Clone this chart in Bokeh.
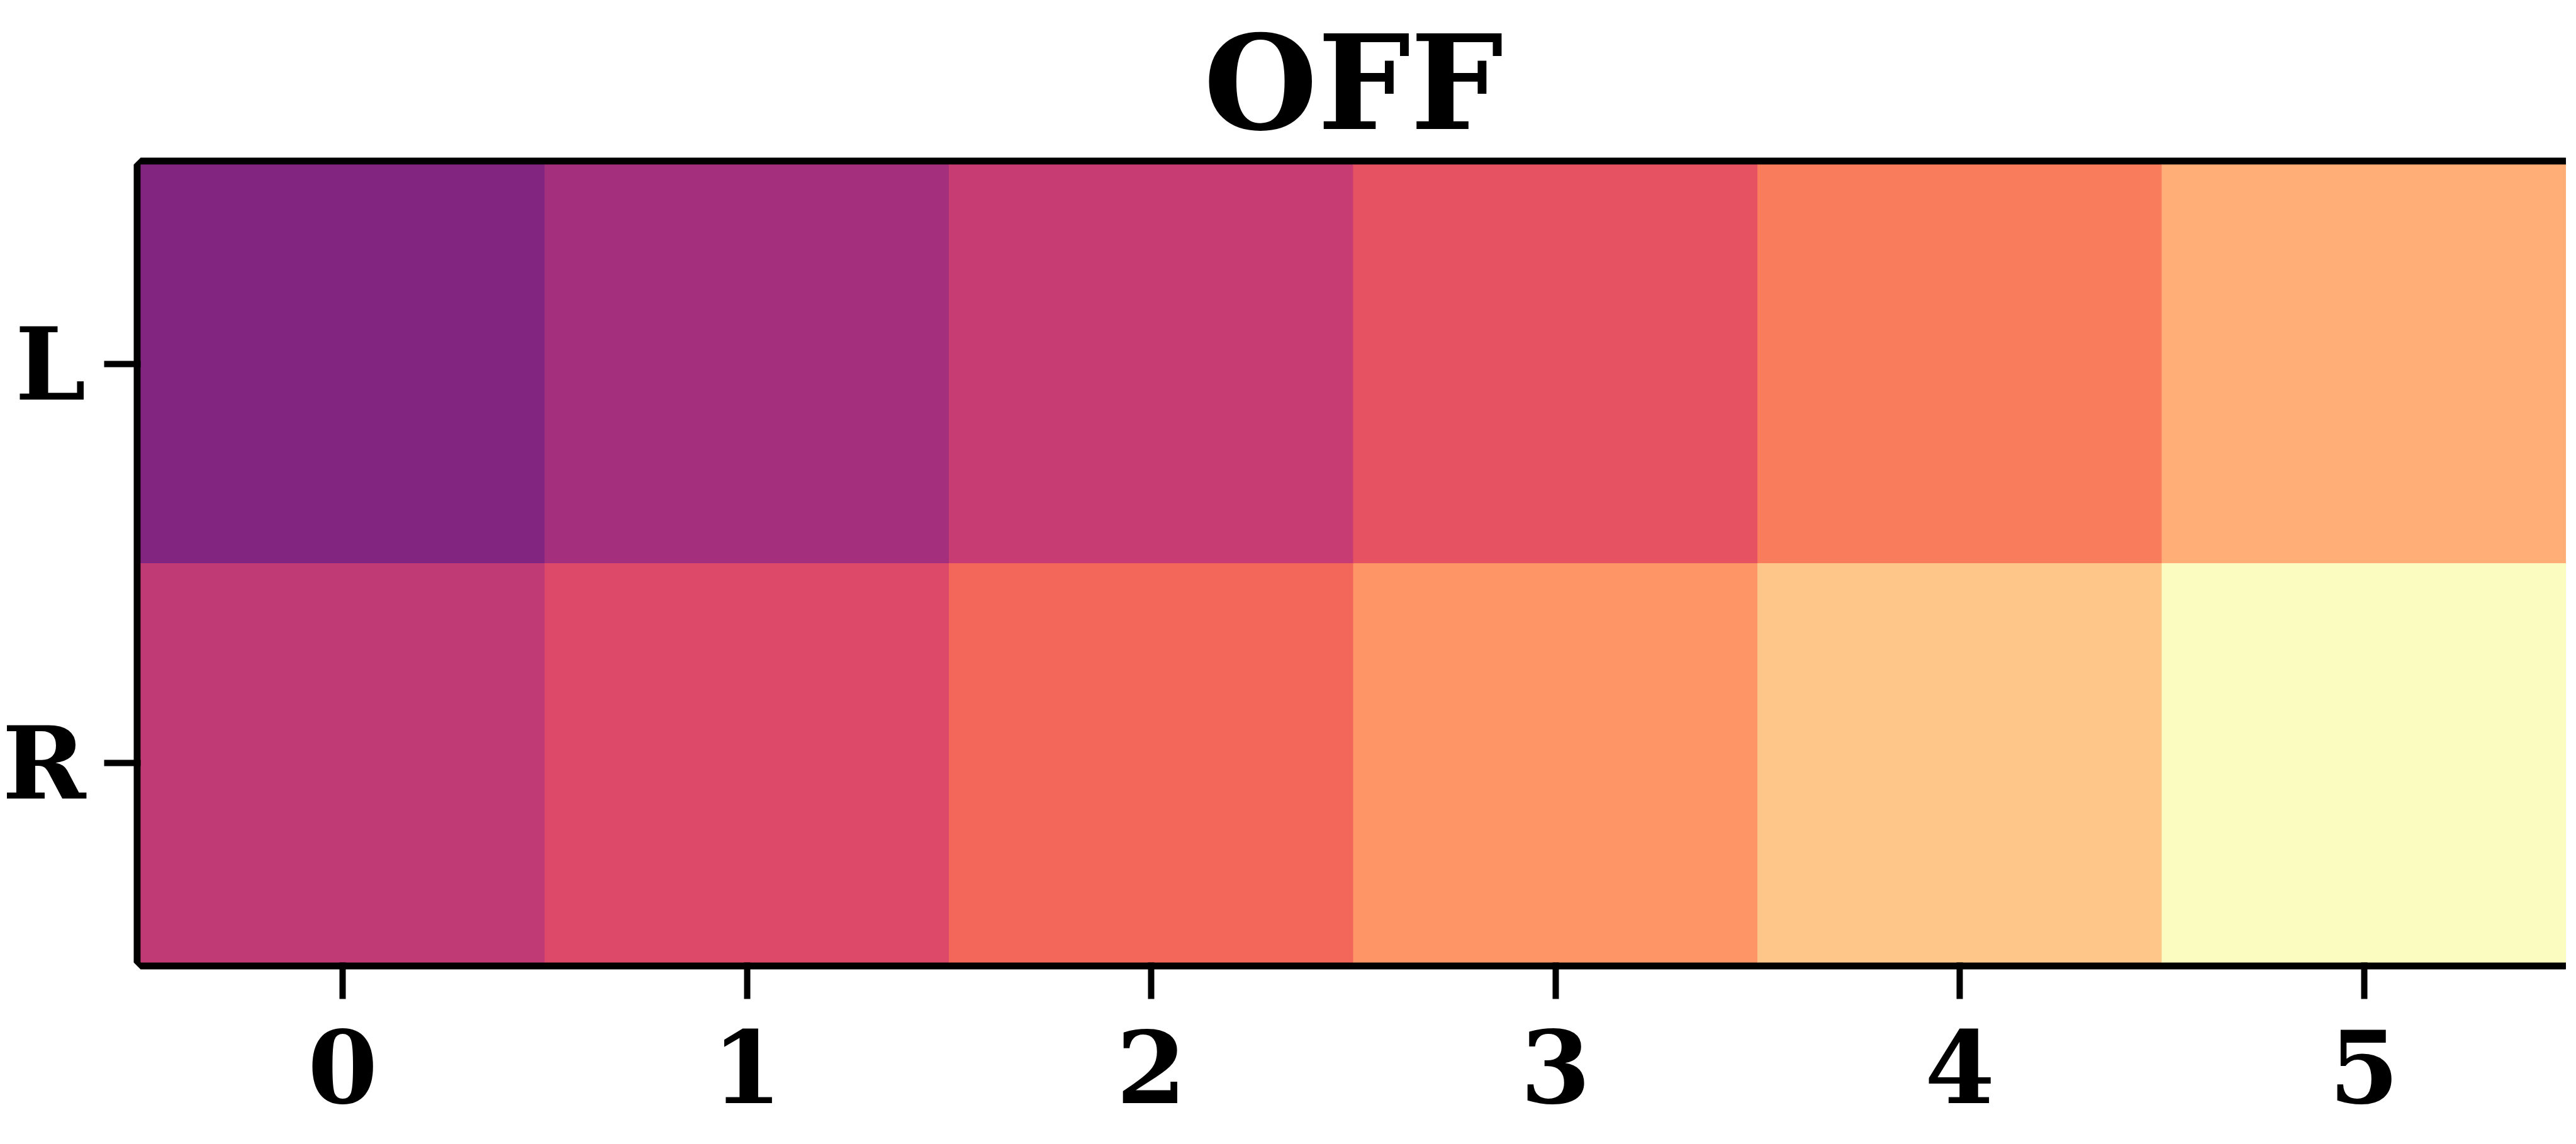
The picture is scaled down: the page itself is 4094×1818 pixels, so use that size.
from bokeh.plotting import figure
from bokeh.models import LinearColorMapper, ColumnDataSource
from bokeh.palettes import Magma256
from bokeh.transform import transform
from bokeh.embed import file_html
from bokeh.resources import INLINE

# ---- data ----
title_text = "OFF"
x_labels = ["0", "1", "2", "3", "4", "5"]
y_labels = ["L", "R"]
values_L = [0.375, 0.46, 0.54, 0.63, 0.73, 0.83]
values_R = [0.526, 0.60, 0.68, 0.78, 0.88, 1.00]

xs, ys, vs = [], [], []
for lab, row in zip(y_labels, [values_L, values_R]):
    for xl, v in zip(x_labels, row):
        xs.append(xl)
        ys.append(lab)
        vs.append(v)
source = ColumnDataSource(dict(x=xs, y=ys, v=vs))

FONT = "DejaVu Serif"
W, H = 4078, 1802

mapper = LinearColorMapper(palette=Magma256, low=0.0, high=1.0)

p = figure(width=W, height=H, x_range=x_labels, y_range=list(reversed(y_labels)),
           output_backend="svg", toolbar_location=None,
           min_border_left=217, min_border_right=0,
           min_border_top=248, min_border_bottom=273,
           title=title_text)

p.rect(x="x", y="y", width=1, height=1, source=source,
       fill_color=transform("v", mapper), line_color=transform("v", mapper),
       line_width=1)

p.title.align = "center"
p.title.text_font = FONT
p.title.text_font_style = "bold"
p.title.text_font_size = "208px"
p.title.text_color = "black"
p.title.standoff = 15

p.grid.visible = False
p.outline_line_color = "black"
p.outline_line_width = 22
p.background_fill_color = "white"
p.border_fill_color = "white"

for ax in (p.xaxis, p.yaxis):
    ax.axis_line_color = None
    ax.major_tick_line_color = "black"
    ax.major_tick_line_width = 10
    ax.major_tick_out = 58
    ax.major_tick_in = 0
    ax.minor_tick_line_color = None
    ax.major_label_text_font = FONT
    ax.major_label_text_font_style = "bold"
    ax.major_label_text_color = "black"
    ax.major_label_text_font_size = "160px"

p.xaxis.major_label_standoff = 48
p.yaxis.major_label_standoff = 29

open("out.html", "w").write(file_html(p, INLINE))
